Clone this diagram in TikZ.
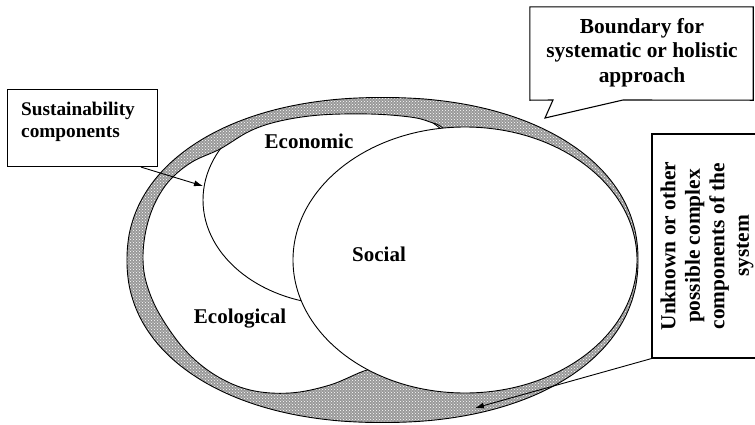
\documentclass[tikz,border=0pt]{standalone}
\usepackage{fontspec}
\setmainfont{Liberation Serif}
\usetikzlibrary{patterns,arrows.meta,calc}
\begin{document}
\begin{tikzpicture}[x=1pt,y=-1pt,
  edge/.style={draw=black,line width=0.9pt},
  frame/.style={draw=black,line width=1.1pt,fill=white},
  tag/.style={font=\fontsize{21}{24}\selectfont\bfseries,inner sep=0pt},
  note/.style={font=\fontsize{19.3}{22}\selectfont\bfseries,inner sep=0pt,align=left},
  bignote/.style={font=\fontsize{21.4}{24.5}\selectfont\bfseries,inner sep=0pt,align=center},
  pointer/.style={draw=black,line width=0.9pt,-{Latex[length=9pt,width=6pt]}},
  hatch/.style={pattern=crosshatch dots,pattern color=white}
]
\useasboundingbox (0,0) rectangle (755,424);
\clip (0,0) rectangle (755,424);

% system boundary: a slightly rounded oval carrying the hatched band
\def\outerpath{plot[smooth cycle,domain=0.5:358,samples=144,variable=\t]
  ({382.5+255.5*sign(cos(\t))*abs(cos(\t))^0.93},
   {260+162.5*sign(sin(\t))*abs(sin(\t))^0.93})}
\fill[black!40] \outerpath;
\fill[hatch] \outerpath;
\draw[edge] \outerpath;

% ecological domain
\path[edge,fill=white] plot[smooth cycle,tension=0.6] coordinates {
  (143,259) (146,230) (155,203) (170,180) (192,162) (220,149) (250,131)
  (280,121) (320,115) (370,114) (410,117) (430,122) (447,131) (500,175)
  (560,240) (545,320) (470,362) (395,366) (367,370) (330,385) (290,393)
  (250,390) (215,375) (185,350) (160,315) (147,285)};

% economic domain, kept inside the ecological one
\begin{scope}
  \clip plot[smooth cycle,tension=0.6] coordinates {
    (143,259) (146,230) (155,203) (170,180) (192,162) (220,149) (250,131)
    (280,121) (320,115) (370,114) (410,117) (430,122) (447,131) (500,175)
    (560,240) (545,320) (470,362) (395,366) (367,370) (330,385) (290,393)
    (250,390) (215,375) (185,350) (160,315) (147,285)};
  \draw[edge] (340,200) ellipse [x radius=137,y radius=105];
\end{scope}

% social domain
\draw[edge,fill=white] (465,260) ellipse [x radius=172,y radius=133];

% domain labels
\node[tag,anchor=base] (eco) at (309,148) {Economic};
\node[tag,anchor=base] (soc) at (379,261) {Social};
\node[tag,anchor=base] (ecol) at (240,323) {Ecological};

% sustainability components note
\node[frame,anchor=north west,minimum width=150pt,minimum height=77pt] (sus) at (7,89) {};
\node[note,anchor=north west] (sustxt) at (21,102) {Sustainability\\components};
\coordinate (susend) at (203,186);
\draw[pointer] ($(sus.south west)!0.887!(sus.south east)$) -- (susend);

% boundary callout
\node[minimum width=223pt,minimum height=93pt,inner sep=0pt] (bnd) at (641.5,53.5) {};
\coordinate (bndtip) at (545,118);
\coordinate (bndl) at (553,100);
\coordinate (bndr) at (623,100);
\path[frame] (bnd.north west) -- (bnd.north east) -- (bnd.south east)
  -- (bndr) -- (bndtip) -- (bndl) -- (bnd.south west) -- cycle;
\node[bignote] (bndtxt) at (642,52.5) {Boundary for\\systematic or holistic\\approach};

% unknown components note
\node[frame,minimum width=138pt,minimum height=224pt,inner sep=0pt] (unk) at (721,246) {};
\node[bignote,rotate=90] (unktxt) at (707,246)
  {Unknown or other\\possible complex\\components of the\\system};
\coordinate (unkend) at (475,408);
\draw[pointer] (unk.south west) -- (unkend);
\end{tikzpicture}
\end{document}
